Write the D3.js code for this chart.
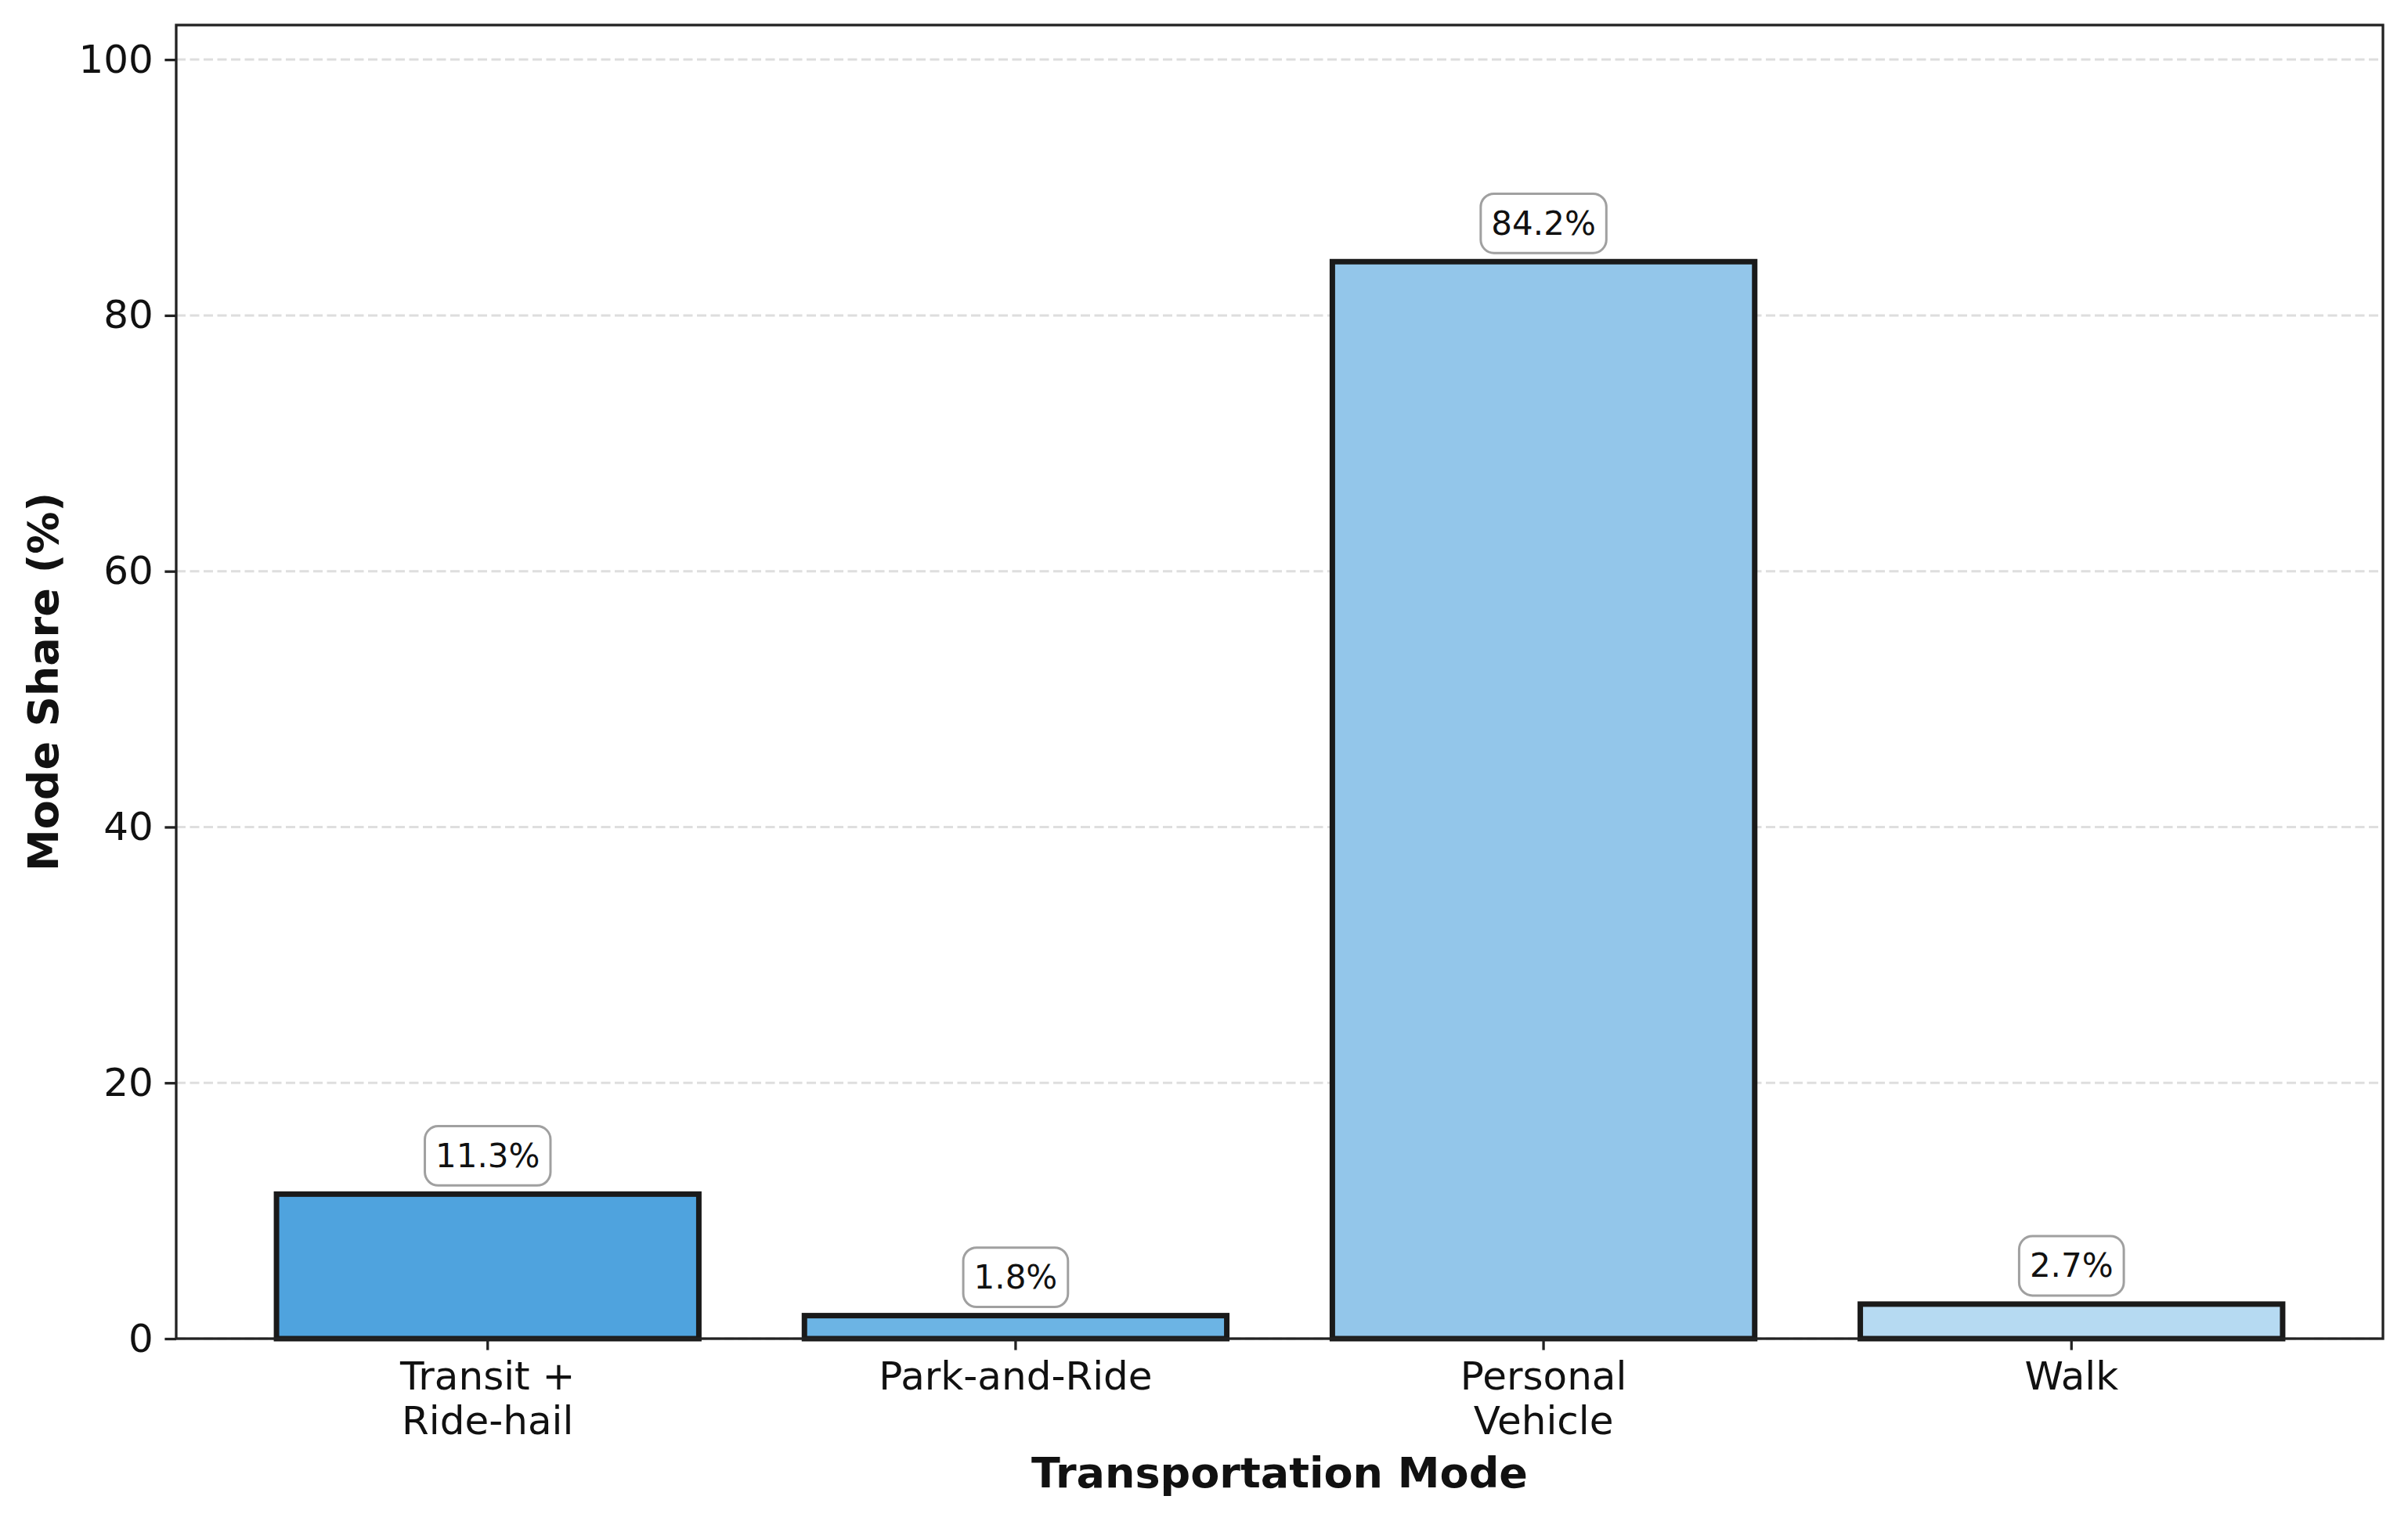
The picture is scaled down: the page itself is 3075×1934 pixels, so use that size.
<!DOCTYPE html>
<html>
<head>
<meta charset="utf-8">
<script src="https://cdn.jsdelivr.net/npm/d3@7"></script>
<style>
  html, body { margin: 0; padding: 0; background: #ffffff; }
  svg { display: block; font-family: "DejaVu Sans", sans-serif; }
</style>
</head>
<body>
<svg id="chart" width="3075" height="1934"></svg>
<script>
// ---- data ----
const categories = ["Transit +\nRide-hail", "Park-and-Ride", "Personal\nVehicle", "Walk"];
const shares = [11.3, 1.8, 84.2, 2.7];
const barColors = ["#4fa3de", "#6cb4e4", "#93c6ea", "#b6daf2"];
const yTicks = [0, 20, 40, 60, 80, 100];
const xTitle = "Transportation Mode";
const yTitle = "Mode Share (%)";

// ---- layout ----
const plot = { left: 225, right: 3043, top: 32, bottom: 1710 };
const svg = d3.select("#chart");

const x = d3.scaleBand()
  .domain(d3.range(categories.length))
  .range([plot.left, plot.right])
  .paddingInner(0.2)
  .paddingOuter(0.19);

const y = d3.scaleLinear()
  .domain([0, 102.7])
  .range([plot.bottom, plot.top]);

// grid
svg.append("g")
  .selectAll("line")
  .data(yTicks)
  .join("line")
  .attr("x1", plot.left).attr("x2", plot.right)
  .attr("y1", d => y(d)).attr("y2", d => y(d))
  .attr("stroke", "#dedede")
  .attr("stroke-width", 3)
  .attr("stroke-dasharray", "12,5.5");

// bars
svg.append("g")
  .selectAll("rect")
  .data(shares)
  .join("rect")
  .attr("x", (d, i) => x(i))
  .attr("y", d => y(d))
  .attr("width", x.bandwidth())
  .attr("height", d => y(0) - y(d))
  .attr("fill", (d, i) => barColors[i])
  .attr("stroke", "#1a1a1a")
  .attr("stroke-width", 7);

// spines
svg.append("rect")
  .attr("x", plot.left).attr("y", plot.top)
  .attr("width", plot.right - plot.left)
  .attr("height", plot.bottom - plot.top)
  .attr("fill", "none")
  .attr("stroke", "#222")
  .attr("stroke-width", 3.3);

// y axis
const yAxis = svg.append("g")
  .attr("transform", `translate(${plot.left},0)`)
  .call(d3.axisLeft(y).tickValues(yTicks).tickSize(14.6).tickPadding(14.6).tickFormat(d3.format("d")));
yAxis.select(".domain").remove();
yAxis.selectAll(".tick line").attr("stroke", "#222").attr("stroke-width", 3.3);
yAxis.selectAll(".tick text")
  .attr("font-family", "DejaVu Sans").attr("font-size", 50).attr("fill", "#111");

// x axis
const xAxis = svg.append("g")
  .attr("transform", `translate(0,${plot.bottom})`)
  .call(d3.axisBottom(x).tickSize(14.6).tickPadding(14.6).tickFormat(i => categories[i]));
xAxis.select(".domain").remove();
xAxis.selectAll(".tick line").attr("stroke", "#222").attr("stroke-width", 3.3);
xAxis.selectAll(".tick text")
  .attr("font-family", "DejaVu Sans").attr("font-size", 50).attr("fill", "#111")
  .each(function(i) {
    const t = d3.select(this);
    const lines = categories[i].split("\n");
    t.text(null).attr("dy", null).attr("y", 65);
    lines.forEach((ln, k) => {
      t.append("tspan").attr("x", 0).attr("dy", k === 0 ? 0 : 57).text(ln);
    });
  });

// annotations
const ann = svg.append("g");
shares.forEach((v, i) => {
  const cx = x(i) + x.bandwidth() / 2;
  const fs = 42, pad = 13.5;
  const g = ann.append("g");
  const txt = g.append("text")
    .attr("x", cx)
    .attr("text-anchor", "middle")
    .attr("font-family", "DejaVu Sans")
    .attr("font-size", fs)
    .attr("fill", "#111")
    .text(v.toFixed(1) + "%");
  const boxBottom = y(v) - 11;
  const textBottom = boxBottom - pad;
  const baseline = textBottom - 0.236 * fs;
  txt.attr("y", baseline);
  const tw = txt.node().getBBox().width;
  const th = 1.164 * fs;
  g.insert("rect", "text")
    .attr("x", cx - tw / 2 - pad)
    .attr("y", textBottom - th - pad)
    .attr("width", tw + 2 * pad)
    .attr("height", th + 2 * pad)
    .attr("rx", 17).attr("ry", 17)
    .attr("fill", "#ffffff")
    .attr("stroke", "#a0a0a0")
    .attr("stroke-width", 3);
});

// axis titles
svg.append("text")
  .attr("x", (plot.left + plot.right) / 2)
  .attr("y", 1900)
  .attr("text-anchor", "middle")
  .attr("font-family", "DejaVu Sans")
  .attr("font-weight", "bold")
  .attr("font-size", 54)
  .attr("fill", "#111")
  .text(xTitle);

svg.append("text")
  .attr("transform", `translate(74,${(plot.top + plot.bottom) / 2}) rotate(-90)`)
  .attr("text-anchor", "middle")
  .attr("font-family", "DejaVu Sans")
  .attr("font-weight", "bold")
  .attr("font-size", 54)
  .attr("fill", "#111")
  .text(yTitle);
</script>
</body>
</html>
